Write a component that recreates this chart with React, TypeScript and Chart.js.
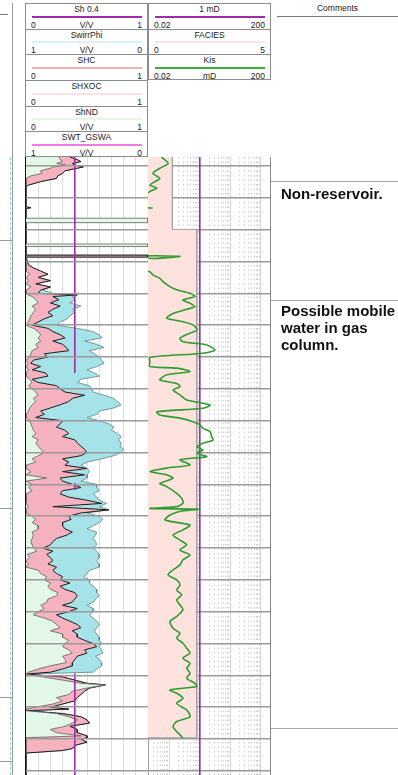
import React, { useEffect, useRef } from 'react';
import { Chart, registerables } from 'chart.js';

Chart.register(...registerables);

// ---------------- data ----------------
const DEPTH_TOP = -2.83;
const DEPTH_BOTTOM = 191.3;
const depthTicks = [0, 10, 20, 30, 40, 50, 60, 70, 80, 90, 100, 110, 120, 130, 140, 150, 160, 170, 180, 190];
const satTicks = [0, 0.1, 0.2, 0.3, 0.4, 0.5, 0.6, 0.7, 0.8, 0.9, 1];
const permMajorTicks = [0.02, 0.1, 1, 10, 100, 200];
const permMinorTicks = [0.03, 0.04, 0.05, 0.06, 0.07, 0.08, 0.09, 0.2, 0.3, 0.4, 0.5, 0.6, 0.7, 0.8, 0.9,
  2, 3, 4, 5, 6, 7, 8, 9, 20, 30, 40, 50, 60, 70, 80, 90];

// Track 1: saturation curves (0 left .. 1 right)
const satDepth = [
  -2.83, -2.0, -1.4, -0.8, -0.3, 0.3, 0.7, 1.5, 2.3, 3.1,
  3.9, 4.9, 6.0, 6.5, 12.8, 13.1, 13.4, 16.4, 16.4, 17.8,
  17.8, 24.5, 24.5, 25.3, 25.3, 28.0, 28.0, 28.6, 28.6, 31.0,
  32, 33, 34, 35, 36, 37, 38, 39, 40, 40.5,
  41, 42, 43, 44, 45, 46, 47, 48, 49, 50,
  51, 52, 53, 54, 55, 56, 57, 58, 59, 60,
  61, 62, 63, 64, 65, 66, 67, 68, 69, 70,
  71, 72, 73, 74, 75, 76, 77, 78, 79, 80,
  81, 82, 83, 84, 85, 86, 87, 88, 89, 90,
  91, 92, 93, 94, 95, 96, 97, 98, 99, 100,
  101, 102, 103, 104, 105, 106, 107, 108, 109, 110,
  111, 112, 113, 114, 115, 116, 117, 118, 119, 120,
  121, 122, 123, 124, 125, 126, 127, 128, 129, 130,
  131, 132, 133, 134, 135, 136, 137, 138, 139, 140,
  141, 142, 143, 144, 145, 146, 147, 148, 149, 150,
  151, 152, 153, 154, 155, 156, 157, 158, 159, 159.6,
  160.5, 161.5, 162.5, 163, 164, 165, 166, 167, 168, 169,
  170, 170.6, 171.1, 172, 173, 174, 175, 176, 177, 178,
  179, 179.6, 180, 181, 182, 183, 183.6, 184.4, 191.3,
];
const shNd = [
  0.27, 0.28, 0.30, 0.25, 0.33, 0.22, 0.20, 0.12, 0.13, 0.04,
  0, 0, 0, 0, 0, 0, 0, 0, 1, 1,
  0, 0, 1, 1, 0, 0, 0, 0, 0, 0,
  0, 0, 0.03, 0, 0.02, 0, 0.04, 0, 0, 0.02,
  0.05, 0.08, 0.10, 0.05, 0.08, 0.06, 0.04, 0.03, 0.02, 0,
  0.06, 0.10, 0.12, 0.10, 0.12, 0.08, 0.10, 0.05, 0.04, 0.03,
  0, 0.02, 0, 0.02, 0, 0, 0.03, 0.05, 0.02, 0.05,
  0.08, 0.10, 0.06, 0.08, 0.05, 0.03, 0.02, 0, 0, 0.03,
  0.04, 0.05, 0.06, 0.08, 0.05, 0.10, 0.08, 0.10, 0.12, 0.15,
  0.10, 0.05, 0.08, 0, 0, 0.04, 0, 0.17, 0, 0.05,
  0.02, 0.05, 0, 0, 0, 0, 0.02, 0, 0, 0.05,
  0.08, 0.05, 0.10, 0.10, 0.05, 0.06, 0.05, 0.04, 0.05, 0.06,
  0.09, 0.01, 0.03, 0, 0.02, 0, 0.10, 0.12, 0.17, 0.15,
  0.20, 0.18, 0.20, 0.26, 0.25, 0.18, 0.17, 0.12, 0.15, 0.10,
  0.06, 0.15, 0.22, 0.25, 0.28, 0.20, 0.30, 0.30, 0.35, 0.32,
  0.30, 0.35, 0.38, 0.30, 0.32, 0.33, 0.20, 0.10, 0.02, 0,
  0.14, 0.30, 0.45, 0.65, 0.50, 0.38, 0.35, 0.25, 0.30, 0.22,
  0.08, 0, 0, 0.25, 0.35, 0.42, 0.38, 0.32, 0.20, 0.25,
  0.45, 0, 0, 0, 0, 0, 0, 0, 0,
];
const shc = [
  0.36, 0.42, 0.45, 0.38, 0.40, 0.47, 0.42, 0.32, 0.30, 0.26,
  0.25, 0.12, 0.02, 0, 0, 0.04, 0, 0, 0, 0,
  0, 0, 0, 0, 0, 0, 1, 1, 0, 0.02,
  0.06, 0.12, 0.18, 0.10, 0.20, 0.08, 0.20, 0.12, 0.10, 0.42,
  0.22, 0.27, 0.20, 0.28, 0.22, 0.18, 0.22, 0.15, 0.10, 0.05,
  0.18, 0.22, 0.28, 0.32, 0.22, 0.30, 0.33, 0.35, 0.15, 0.18,
  0.06, 0.04, 0.12, 0.05, 0.16, 0.18, 0.05, 0.10, 0.25, 0.28,
  0.32, 0.48, 0.38, 0.35, 0.28, 0.20, 0.12, 0.15, 0.08, 0.30,
  0.28, 0.25, 0.32, 0.35, 0.30, 0.40, 0.42, 0.45, 0.48, 0.50,
  0.45, 0.30, 0.35, 0.32, 0.50, 0.30, 0.48, 0.28, 0.30, 0.38,
  0.45, 0.30, 0.28, 0.35, 0.50, 0.62, 0.22, 0.68, 0.45, 0.35,
  0.37, 0.30, 0.30, 0.32, 0.38, 0.33, 0.25, 0.22, 0.20, 0.14,
  0.22, 0.17, 0.20, 0.22, 0.18, 0.25, 0.22, 0.25, 0.30, 0.28,
  0.36, 0.28, 0.32, 0.40, 0.42, 0.40, 0.38, 0.30, 0.42, 0.35,
  0.25, 0.30, 0.36, 0.42, 0.45, 0.38, 0.42, 0.42, 0.48, 0.55,
  0.58, 0.48, 0.50, 0.42, 0.40, 0.38, 0.38, 0.30, 0.20, 0,
  0.30, 0.40, 0.50, 0.65, 0.52, 0.48, 0.45, 0.42, 0.40, 0.30,
  0.20, 0.35, 0, 0.30, 0.45, 0.50, 0.52, 0.36, 0.42, 0.42,
  0.50, 0.50, 0.45, 0.50, 0.40, 0.38, 0.30, 0, 0,
];
const swirrPhi = [
  0.36, 0.42, 0.45, 0.38, 0.40, 0.47, 0.42, 0.32, 0.30, 0.26,
  0.25, 0.12, 0.02, 0, 0, 0.04, 0, 0, 0, 0,
  0, 0, 0, 0, 0, 0, 1, 1, 0, 0.02,
  0.06, 0.12, 0.18, 0.10, 0.20, 0.08, 0.20, 0.14, 0.22, 0.42,
  0.38, 0.40, 0.36, 0.45, 0.38, 0.40, 0.36, 0.34, 0.28, 0.25,
  0.42, 0.55, 0.60, 0.62, 0.48, 0.58, 0.64, 0.52, 0.56, 0.60,
  0.62, 0.64, 0.58, 0.50, 0.56, 0.60, 0.45, 0.42, 0.52, 0.54,
  0.55, 0.64, 0.72, 0.75, 0.78, 0.72, 0.60, 0.58, 0.50, 0.60,
  0.68, 0.72, 0.70, 0.75, 0.78, 0.76, 0.78, 0.77, 0.80, 0.78,
  0.72, 0.62, 0.50, 0.45, 0.50, 0.52, 0.50, 0.50, 0.45, 0.58,
  0.58, 0.60, 0.55, 0.58, 0.60, 0.66, 0.60, 0.68, 0.50, 0.60,
  0.63, 0.60, 0.55, 0.50, 0.58, 0.57, 0.55, 0.57, 0.58, 0.55,
  0.58, 0.60, 0.60, 0.58, 0.60, 0.60, 0.52, 0.50, 0.47, 0.52,
  0.52, 0.55, 0.58, 0.58, 0.60, 0.57, 0.55, 0.50, 0.55, 0.55,
  0.52, 0.55, 0.58, 0.60, 0.58, 0.56, 0.58, 0.60, 0.60, 0.62,
  0.60, 0.62, 0.63, 0.57, 0.60, 0.62, 0.62, 0.58, 0.55, 0,
  0.30, 0.40, 0.50, 0.65, 0.52, 0.48, 0.45, 0.42, 0.40, 0.30,
  0.20, 0.35, 0, 0.30, 0.45, 0.50, 0.52, 0.36, 0.42, 0.42,
  0.50, 0.50, 0.45, 0.50, 0.40, 0.38, 0.30, 0, 0,
];
// Sh 0.4 cut-off line (gaps where not drawn)
const sh04Depth = [-2.83, 65, 80, 99.6, 101.8, 130, 159.4, 191.3];
const sh04Value = [0.4, 0.4, null, 0.4, 0.4, null, 0.4, 0.4];

// Track 2: permeability (log 0.02..200 mD)
const kisDepth = [
  -2.83, -2.4, -0.8, 0.7, 2.3, 3.9, 4.9, 6.0, 7.0, 7.7,
  8.4, 9.0, 12.9, 13.2, 13.5, 28.2, 28.4, 28.6, 32.8, 33.2,
  34.2, 35.3, 36.3, 37.9, 38.9, 40.0, 41.0, 42.1, 43.1, 44.2,
  45.0, 46.3, 47.8, 48.9, 49.9, 51.5, 52.5, 54.1, 55.2, 56.2,
  57.8, 58.8, 60.1, 61.5, 63.0, 63.5, 64.6, 65.6, 67.2, 68.3,
  69.3, 70.4, 71.9, 73.5, 75.1, 76.1, 77.2, 78.2, 79.2, 80.3,
  81.3, 82.4, 83.4, 85.0, 86.1, 87.1, 88.2, 89.2, 90.2, 91.3,
  92.3, 93.9, 94.9, 96.0, 97.0, 98.1, 99.7, 100.7, 102.8, 104.4,
  105.9, 107.0, 107.6, 107.8, 108.3, 109.6, 111.2, 112.8, 114.3, 115.9,
  117.5, 119.0, 120.6, 122.2, 123.7, 125.3, 126.9, 128.5, 130.0, 131.6,
  133.2, 134.7, 136.3, 137.9, 139.4, 141.5, 143.1, 145.2, 146.8, 148.3,
  149.9, 151.5, 153.0, 154.6, 156.2, 157.8, 159.3, 160.9, 162.5, 163.5,
  164.6, 165.6, 167.2, 168.8, 170.9, 173.0, 174.5, 176.1, 177.7, 178.7,
  179.7,
];
const kisValue = [
  0.055, 0.062, 0.091, 0.049, 0.029, 0.049, 0.034, 0.023, 0.039, 0.026,
  0.02, 0.01, 0.01, 0.027, 0.01, 0.01, 0.224, 0.01, 0.01, 0.023,
  0.029, 0.049, 0.062, 0.105, 0.175, 0.477, 0.69, 0.28, 0.477, 0.69,
  0.372, 0.132, 0.082, 0.28, 0.6, 0.81, 0.477, 0.224, 0.28, 1.68,
  3.15, 1.27, 0.023, 0.023, 0.023, 0.175, 0.477, 0.082, 0.049, 0.175,
  0.224, 0.132, 0.224, 0.372, 2.16, 1.27, 0.039, 0.049, 0.224, 0.6,
  1.01, 1.27, 2.16, 2.45, 2.7, 1.27, 0.81, 1.27, 0.81, 1.68,
  0.224, 0.477, 0.082, 0.023, 0.082, 0.132, 0.049, 0.082, 0.175, 0.255,
  0.28, 0.175, 0.023, 1.01, 0.28, 0.105, 0.072, 0.477, 0.28, 0.132,
  0.224, 0.372, 0.224, 0.477, 0.28, 0.224, 0.132, 0.091, 0.175, 0.224,
  0.175, 0.255, 0.175, 0.224, 0.28, 0.175, 0.105, 0.132, 0.224, 0.175,
  0.28, 0.372, 0.477, 0.28, 0.477, 0.372, 0.477, 0.372, 0.69, 0.79,
  0.105, 0.175, 0.28, 0.175, 0.372, 0.477, 0.175, 0.132, 0.175, 0.224,
  0.28,
];
const cutDepth = [-2.83, 191.3];
const cutValue = [1, 1];
const faciesDepth = [-2.83, 19.9, 19.9, 179.6, 179.6, 191.3];
const faciesValue = [1, 1, 2, 2, 0, 0];

// Header texts
const t1Names = ['Sh 0.4', 'SwirrPhi', 'SHC', 'SHXOC', 'ShND', 'SWT_GSWA'];
const t1Units = ['V/V', 'V/V', '', '', 'V/V', 'V/V'];
const t1Lo = ['0', '1', '0', '0', '0', '1'];
const t1Hi = ['1', '0', '1', '1', '1', '0'];
const t2Names = ['1 mD', 'FACIES', 'Kis'];
const t2Units = ['', '', 'mD'];
const t2Lo = ['0.02', '0', '0.02'];
const t2Hi = ['200', '5', '200'];
const comment1 = 'Non-reservoir.';
const comment2 = ['Possible mobile', 'water in gas', 'column.'];

// ---------------- styles ----------------
const t1Colors = ['#a02ca8', '#d9f3f7', '#f5b0b0', '#fbe2e2', '#e4f6e4', '#f07ce2'];
const t2Colors = ['#a02ca8', '#fde3e3', '#3caf3c'];
const ROW_H = 25.67;
const FONT = '"Liberation Sans", Arial, Helvetica, sans-serif';

const pts = (xs: any[], ys: number[]) => xs.map((x, i) => ({ x, y: ys[i] }));

function depthAxis(onTop: boolean) {
  return {
    type: 'linear',
    position: 'left',
    reverse: true,
    min: DEPTH_TOP,
    max: DEPTH_BOTTOM,
    afterBuildTicks: (ax: any) => { ax.ticks = depthTicks.map((v) => ({ value: v })); },
    afterFit: (ax: any) => { ax.width = 0; },
    ticks: { display: false },
    border: { display: false },
    grid: { color: '#9a9a9a', lineWidth: 1.4, drawTicks: false, z: onTop ? 1 : 0 },
  };
}

function baseOptions(scales: any) {
  return {
    indexAxis: 'y',
    responsive: false,
    animation: false,
    devicePixelRatio: 1,
    events: [],
    layout: { padding: { left: 6, right: 6, top: 6, bottom: 6 } },
    elements: { point: { radius: 0 }, line: { tension: 0 } },
    plugins: { legend: { display: false }, tooltip: { enabled: false } },
    scales,
  };
}

function HeaderRow(props: any) {
  const { left, top, width, name, unit, lo, hi, color, last } = props;
  const f = { fontFamily: FONT, fontSize: 8.5, lineHeight: '10px', color: '#222', whiteSpace: 'nowrap' as const };
  return (
    <div style={{
      position: 'absolute', left, top, width, height: ROW_H, boxSizing: 'border-box',
      borderTop: '1px solid #8c8c8c', borderLeft: '1px solid #8c8c8c', borderRight: '1px solid #8c8c8c',
      borderBottom: last ? '1px solid #8c8c8c' : 'none',
    }}>
      <div style={{ position: 'absolute', left: 0, right: 0, top: 0, textAlign: 'center', ...f }}>{name}</div>
      <div style={{ position: 'absolute', left: 6, right: 5, top: 11.5, height: 2, background: color }} />
      <div style={{ position: 'absolute', left: 5, top: 15.5, ...f }}>{lo}</div>
      <div style={{ position: 'absolute', left: 0, right: 0, top: 15.5, textAlign: 'center', ...f }}>{unit}</div>
      <div style={{ position: 'absolute', right: 5, top: 15.5, ...f }}>{hi}</div>
    </div>
  );
}

export default function App() {
  const ref1 = useRef<HTMLCanvasElement>(null);
  const ref2 = useRef<HTMLCanvasElement>(null);

  useEffect(() => {
    const satGrid = {
      drawTicks: false,
      color: (c: any) => (c.tick && c.tick.value === 0 ? '#111' : c.tick && c.tick.value === 1 ? '#8a8a8a' : '#dcdcdc'),
      lineWidth: (c: any) => (c.tick && c.tick.value === 0 ? 2 : 1),
    };
    const leftFill = { value: 0 };
    const chart1 = new Chart(ref1.current as any, {
      type: 'line',
      data: {
        datasets: [
          { label: 'Sh 0.4', data: pts(sh04Value, sh04Depth), borderColor: '#a02ca8', borderWidth: 1.6, fill: false, pointRadius: 0, spanGaps: false },
          { label: 'ShND', data: pts(shNd, satDepth), borderColor: '#5e5e5e', borderWidth: 0.8, backgroundColor: '#e3f8e6', fill: leftFill, pointRadius: 0 },
          { label: 'SHC', data: pts(shc, satDepth), borderColor: '#1c1c1c', borderWidth: 1, backgroundColor: '#f6b2be', fill: leftFill, pointRadius: 0 },
          { label: 'SwirrPhi', data: pts(swirrPhi, satDepth), borderColor: '#5a8587', borderWidth: 0.8, backgroundColor: '#a6e3e8', fill: leftFill, pointRadius: 0 },
        ],
      },
      options: baseOptions({
        x: {
          type: 'linear', position: 'bottom', min: 0, max: 1,
          afterBuildTicks: (ax: any) => { ax.ticks = satTicks.map((v) => ({ value: v })); },
          afterFit: (ax: any) => { ax.height = 0; },
          ticks: { display: false }, border: { display: false }, grid: satGrid,
        },
        y: depthAxis(true),
      }),
    } as any);

    const chart2 = new Chart(ref2.current as any, {
      type: 'line',
      data: {
        datasets: [
          { label: 'Kis', data: pts(kisValue, kisDepth), xAxisID: 'x', borderColor: '#2e9c2e', borderWidth: 1.6, tension: 0.25, fill: false, pointRadius: 0 },
          { label: '1 mD', data: pts(cutValue, cutDepth), xAxisID: 'x', borderColor: '#a02ca8', borderWidth: 1.6, fill: false, pointRadius: 0 },
          { label: 'FACIES', data: pts(faciesValue, faciesDepth), xAxisID: 'xf', borderColor: '#a3a3a3', borderWidth: 1, backgroundColor: '#fde2de', fill: { value: 0 }, pointRadius: 0 },
        ],
      },
      options: baseOptions({
        x: {
          type: 'logarithmic', position: 'bottom', min: 0.02, max: 200,
          afterBuildTicks: (ax: any) => { ax.ticks = permMajorTicks.map((v) => ({ value: v })); },
          afterFit: (ax: any) => { ax.height = 0; },
          ticks: { display: false }, border: { display: false },
          grid: {
            drawTicks: false,
            color: (c: any) => (c.tick && (c.tick.value === 0.02 || c.tick.value === 200) ? '#8a8a8a' : '#d6d6d6'),
          },
        },
        xMinor: {
          axis: 'x', type: 'logarithmic', position: 'bottom', min: 0.02, max: 200,
          afterBuildTicks: (ax: any) => { ax.ticks = permMinorTicks.map((v) => ({ value: v })); },
          afterFit: (ax: any) => { ax.height = 0; },
          ticks: { display: false },
          border: { display: false, dash: [1.5, 3] },
          grid: { drawTicks: false, color: '#d0d0d0', lineWidth: 1 },
        },
        xf: { axis: 'x', type: 'linear', position: 'bottom', min: 0, max: 5, display: false },
        y: depthAxis(false),
      }),
    } as any);

    return () => { chart1.destroy(); chart2.destroy(); };
  }, []);

  const textF = { fontFamily: FONT, color: '#111' };

  return (
    <div style={{ position: 'absolute', left: 0, top: 0, width: 398, height: 775, overflow: 'hidden', background: '#fff' }}>
      {/* left partial track */}
      <div style={{ position: 'absolute', left: 12, top: 3, width: 1, height: 772, background: '#9a9a9a' }} />
      <div style={{ position: 'absolute', left: 10, top: 157, width: 0, height: 618, borderLeft: '1px dashed #8fdbe3' }} />
      <div style={{ position: 'absolute', left: 0, top: 14, width: 8, height: 1, background: '#777' }} />
      {[240, 508, 697, 761].map((y) => (
        <div key={y} style={{ position: 'absolute', left: 0, top: y, width: 12, height: 1, background: '#9a9a9a' }} />
      ))}

      {/* track 1 header */}
      {t1Names.map((n, i) => (
        <HeaderRow key={n} left={25} top={3 + i * ROW_H} width={123} name={n} unit={t1Units[i]}
          lo={t1Lo[i]} hi={t1Hi[i]} color={t1Colors[i]} last={i === t1Names.length - 1} />
      ))}
      {/* track 2 header */}
      {t2Names.map((n, i) => (
        <HeaderRow key={n} left={148} top={3 + i * ROW_H} width={123} name={n} unit={t2Units[i]}
          lo={t2Lo[i]} hi={t2Hi[i]} color={t2Colors[i]} last={i === t2Names.length - 1} />
      ))}
      {/* comments header */}
      <div style={{ position: 'absolute', left: 277, top: 3, width: 121, textAlign: 'center', fontFamily: FONT, fontSize: 8.5, lineHeight: '10px', color: '#222' }}>Comments</div>
      <div style={{ position: 'absolute', left: 277, top: 16, width: 121, height: 1, background: '#777' }} />

      <canvas ref={ref1} width={134} height={630} style={{ position: 'absolute', left: 20, top: 151, width: 134, height: 630 }} />
      <canvas ref={ref2} width={134} height={630} style={{ position: 'absolute', left: 142, top: 151, width: 134, height: 630 }} />

      {/* comments track */}
      {[181, 300, 728].map((y) => (
        <div key={y} style={{ position: 'absolute', left: 271, top: y, width: 127, height: 1, background: '#a8a8a8' }} />
      ))}
      <div style={{ position: 'absolute', left: 281, top: 185, fontSize: 15, fontWeight: 'bold', lineHeight: '17px', ...textF }}>{comment1}</div>
      <div style={{ position: 'absolute', left: 281, top: 302, fontSize: 15, fontWeight: 'bold', lineHeight: '17px', whiteSpace: 'nowrap', ...textF }}>
        {comment2.map((l) => (<div key={l}>{l}</div>))}
      </div>
    </div>
  );
}
